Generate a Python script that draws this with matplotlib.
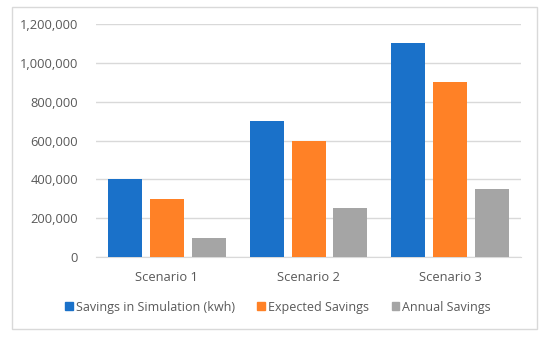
import numpy as np
import matplotlib.pyplot as plt
import matplotlib.patches as mpatches
from matplotlib.ticker import FuncFormatter

# ── Data ───────────────────────────────────────────────────────────────────────
scenarios = ['Scenario 1', 'Scenario 2', 'Scenario 3']
series_names = ['Savings in Simulation (kwh)', 'Expected Savings', 'Annual Savings']
sim_savings = [400000, 700000, 1100000]
expected_savings = [300000, 600000, 900000]
annual_savings = [100000, 250000, 350000]
yticks = [0, 200000, 400000, 600000, 800000, 1000000, 1200000]

colors = ['#1A71C9', '#FF8126', '#A5A5A5']
text_col = '#595959'

plt.rcParams['font.family'] = ['Open Sans', 'DejaVu Sans']

fig = plt.figure(figsize=(5.5, 3.4), dpi=100)
fig.patch.set_facecolor('white')

# outer chart border
fig.patches.append(mpatches.Rectangle((12 / 550, 1 - 329 / 340), 525 / 550, 322 / 340,
                                      transform=fig.transFigure, fill=False,
                                      edgecolor='#D9D9D9', linewidth=1.0))

ax = fig.add_axes([96 / 550, 1 - 257 / 340, 425 / 550, 233 / 340])

x = np.arange(len(scenarios))
w = 0.24
gap = 0.056
for i, (vals, name) in enumerate(zip([sim_savings, expected_savings, annual_savings], series_names)):
    ax.bar(x + (i - 1) * (w + gap), vals, width=w, color=colors[i], label=name, zorder=3)

ax.set_xlim(-0.5, len(scenarios) - 0.5)
ax.set_ylim(0, 1200000)
ax.set_yticks(yticks)
ax.yaxis.set_major_formatter(FuncFormatter(lambda v, p: f'{int(v):,}'))
ax.set_xticks(x)
ax.set_xticklabels(scenarios)

ax.grid(axis='y', color='#D9D9D9', linewidth=1.0, zorder=0)
for s in ['top', 'right', 'left']:
    ax.spines[s].set_visible(False)
ax.spines['bottom'].set_color('#D9D9D9')
ax.tick_params(axis='both', length=0, labelsize=9.3, colors=text_col)
ax.tick_params(axis='y', pad=13)
ax.tick_params(axis='x', pad=10)

handles = [mpatches.Patch(color=c, label=n) for c, n in zip(colors, series_names)]
fig.legend(handles=handles, loc='center', bbox_to_anchor=(278 / 550, 1 - 307 / 340),
           ncol=3, frameon=False, fontsize=9, handlelength=0.6, handleheight=0.6,
           handletextpad=0.25, columnspacing=1.8, labelcolor=text_col)

plt.savefig('out.png', dpi=100)
